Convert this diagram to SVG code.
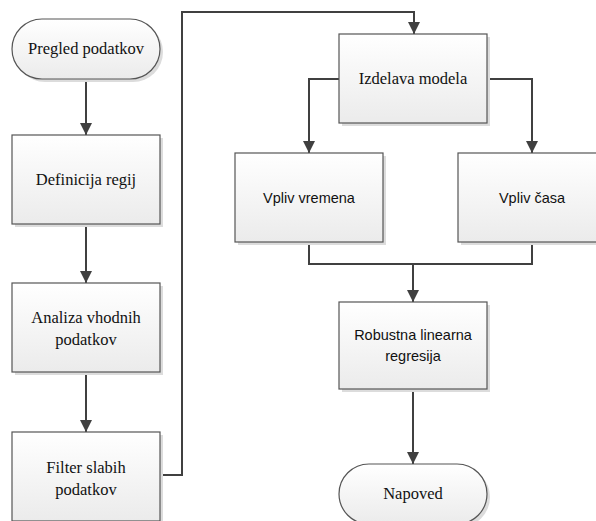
<svg xmlns="http://www.w3.org/2000/svg" width="596" height="521" viewBox="0 0 596 521">
<style>
.shape{fill:url(#g);stroke:#555;stroke-width:1.2}
.shadow{fill:#dcdcdc}
.serif{font-family:"Liberation Serif","Times New Roman",serif;font-size:16.5px;fill:#111;text-anchor:middle}
.sans{font-family:"Liberation Sans",Arial,sans-serif;font-size:14.5px;fill:#111;text-anchor:middle}
.conn{fill:none;stroke:#404040;stroke-width:2}
</style>
<defs>
<linearGradient id="g" x1="0" y1="0" x2="0" y2="1">
<stop offset="0" stop-color="#ffffff"/>
<stop offset="1" stop-color="#ebebeb"/>
</linearGradient>
<marker id="arr" markerWidth="12" markerHeight="12" viewBox="0 0 12 12" refX="12" refY="6" orient="auto" markerUnits="userSpaceOnUse">
<path d="M0,0 L12,6 L0,12 Z" fill="#404040"/>
</marker>
</defs>
<rect width="596" height="521" fill="#fff"/>
<g id="connectors">
<path class="conn" d="M86,79 V135" marker-end="url(#arr)"/>
<path class="conn" d="M86,224 V283" marker-end="url(#arr)"/>
<path class="conn" d="M86,372 V432" marker-end="url(#arr)"/>
<path class="conn" d="M160,475 H182 V12 H414 V34" marker-end="url(#arr)"/>
<path class="conn" d="M339,79 H309 V153" marker-end="url(#arr)"/>
<path class="conn" d="M487,79 H532 V153" marker-end="url(#arr)"/>
<path class="conn" d="M309,242 V264 H532 V242"/>
<path class="conn" d="M413,264 V302" marker-end="url(#arr)"/>
<path class="conn" d="M413,389 V464" marker-end="url(#arr)"/>
</g>
<g id="pregled">
<rect class="shadow" x="15" y="22" width="148" height="60" rx="30"/>
<rect class="shape" x="12" y="19" width="148" height="60" rx="30"/>
<text class="serif" x="86" y="54">Pregled podatkov</text>
</g>
<g id="definicija">
<rect class="shadow" x="15" y="138" width="148" height="89"/>
<rect class="shape" x="12" y="135" width="148" height="89"/>
<text class="serif" x="86" y="185">Definicija regij</text>
</g>
<g id="analiza">
<rect class="shadow" x="15" y="286" width="148" height="89"/>
<rect class="shape" x="12" y="283" width="148" height="89"/>
<text class="serif" x="86" y="323">Analiza vhodnih</text>
<text class="serif" x="86" y="345">podatkov</text>
</g>
<g id="filter">
<rect class="shadow" x="15" y="435" width="148" height="89"/>
<rect class="shape" x="12" y="432" width="148" height="89"/>
<text class="serif" x="86" y="473">Filter slabih</text>
<text class="serif" x="86" y="495">podatkov</text>
</g>
<g id="izdelava">
<rect class="shadow" x="342" y="37" width="148" height="89"/>
<rect class="shape" x="339" y="34" width="148" height="89"/>
<text class="serif" x="413" y="84">Izdelava modela</text>
</g>
<g id="vreme">
<rect class="shadow" x="238" y="156" width="148" height="89"/>
<rect class="shape" x="235" y="153" width="148" height="89"/>
<text class="sans" x="309" y="203">Vpliv vremena</text>
</g>
<g id="cas">
<rect class="shadow" x="461" y="156" width="148" height="89"/>
<rect class="shape" x="458" y="153" width="148" height="89"/>
<text class="sans" x="532" y="203">Vpliv časa</text>
</g>
<g id="robustna">
<rect class="shadow" x="342" y="305" width="148" height="87"/>
<rect class="shape" x="339" y="302" width="148" height="87"/>
<text class="sans" x="413" y="340">Robustna linearna</text>
<text class="sans" x="413" y="361">regresija</text>
</g>
<g id="napoved">
<rect class="shadow" x="342" y="467" width="148" height="60" rx="30"/>
<rect class="shape" x="339" y="464" width="148" height="60" rx="30"/>
<text class="serif" x="413" y="499">Napoved</text>
</g>
</svg>
